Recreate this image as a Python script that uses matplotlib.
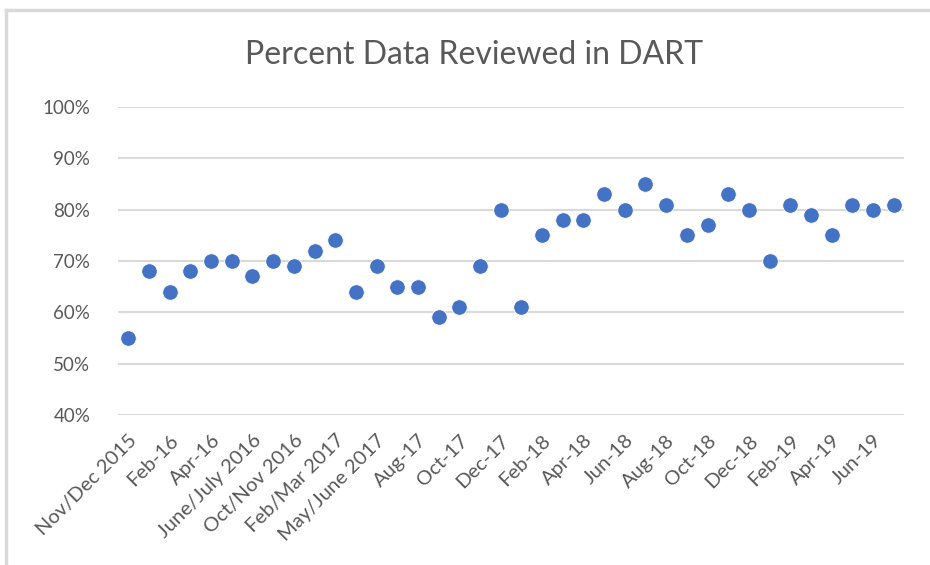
import matplotlib
matplotlib.use("Agg")
import matplotlib.pyplot as plt
from matplotlib.lines import Line2D
import numpy as np

title = "Percent Data Reviewed in DART"
values = [55, 68, 64, 68, 70, 70, 67, 70, 69, 72, 74, 64, 69, 65, 65, 59, 61, 69, 80, 61,
          75, 78, 78, 83, 80, 85, 81, 75, 77, 83, 80, 70, 81, 79, 75, 81, 80, 81]
tick_labels = ["Nov/Dec 2015", "Feb-16", "Apr-16", "June/July 2016", "Oct/Nov 2016",
               "Feb/Mar 2017", "May/June 2017", "Aug-17", "Oct-17", "Dec-17", "Feb-18",
               "Apr-18", "Jun-18", "Aug-18", "Oct-18", "Dec-18", "Feb-19", "Apr-19", "Jun-19"]
y_ticks = [40, 50, 60, 70, 80, 90, 100]

plt.rcParams['font.family'] = ['Lato', 'DejaVu Sans']
fig = plt.figure(figsize=(9.3, 5.65), dpi=100)
ax = fig.add_axes([118/930, 1-415/565, (904-118)/930, (415-107)/565])

x = np.arange(len(values))
ax.scatter(x, np.array(values)/100, s=125, color='#4472C4', edgecolors='white',
           linewidths=0.6, zorder=3)

ax.set_xlim(-0.5, len(values)-0.5)
ax.set_ylim(0.4, 1.0)
ax.set_yticks([v/100 for v in y_ticks])
ax.set_yticklabels([f"{v}%" for v in y_ticks], color='#595959', fontsize=13.5)
ax.yaxis.grid(True, color='#D9D9D9', linewidth=1.5)
ax.set_axisbelow(True)
ax.tick_params(axis='y', length=0, pad=20)
ax.set_xticks(x[::2])
ax.set_xticklabels(tick_labels, rotation=45, ha='right', rotation_mode='anchor',
                   color='#595959', fontsize=14.5)
ax.tick_params(axis='x', length=0, pad=12)
for s in ax.spines.values():
    s.set_visible(False)

fig.text(474/930, 1-55/565, title, ha='center', va='center', fontsize=23, color='#595959')

fig.add_artist(Line2D([6/930, 1], [1-10/565, 1-10/565], color='#D9D9D9', lw=2.5,
                      transform=fig.transFigure))
fig.add_artist(Line2D([6/930, 6/930], [1-10/565, 0], color='#D9D9D9', lw=2.5,
                      transform=fig.transFigure))

fig.savefig("out.png", dpi=100)
